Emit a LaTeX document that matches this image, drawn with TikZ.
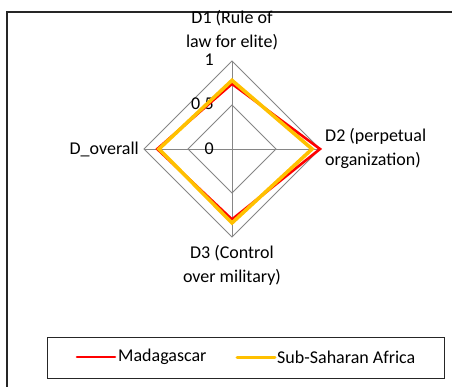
\documentclass[tikz,border=0pt]{standalone}
\usepackage{fontspec}
\setmainfont{Carlito}
\usetikzlibrary{calc}
\definecolor{gridgray}{HTML}{868686}
\definecolor{mgred}{HTML}{FF0000}
\definecolor{ssagold}{HTML}{FFC000}
\begin{document}
\begin{tikzpicture}[x=1pt,y=-1pt,
  font=\fontsize{18}{24}\selectfont,
  gridline/.style={draw=gridgray, line width=0.9pt},
  series/.style={line width=#1, line join=miter, miter limit=10},
  lbl/.style={inner sep=0pt, align=center},
  tick/.style={inner sep=0pt, anchor=east}]
  \useasboundingbox (0,0) rectangle (452,387);
  % chart area frame (right and bottom run past the page)
  \draw[line width=1.4pt, black!85] (460,12) -- (7,12) -- (7,395);

  % radar geometry: centre and radius
  \coordinate (c) at (232,149);
  \def\rad{88}
  \foreach \n/\dx/\dy in {a/0/-1, b/1/0, d/0/1, e/-1/0}{
    \coordinate (\n1) at ($(c)+(\dx*\rad,\dy*\rad)$);
    \coordinate (\n5) at ($(c)+(0.5*\dx*\rad,0.5*\dy*\rad)$);
  }
  % grid rings and spokes
  \draw[gridline] (a1) -- (b1) -- (d1) -- (e1) -- cycle;
  \draw[gridline] (a5) -- (b5) -- (d5) -- (e5) -- cycle;
  \draw[gridline] (c) -- (a1) (c) -- (b1) (c) -- (d1) (c) -- (e1);

  % axis tick labels
  \node[tick] (t0) at (214,149) {0};
  \node[tick] (t5) at (214,105) {0,5};
  \node[tick] (t1) at (214,60) {1};

  % Madagascar
  \draw[series=2.6pt, mgred]
    ($(c)+(0,-0.74*\rad)$) -- ($(c)+(1.0*\rad,0)$) --
    ($(c)+(0,0.80*\rad)$) -- ($(c)+(-0.85*\rad,0)$) -- cycle;
  % Sub-Saharan Africa
  \draw[series=3.6pt, ssagold]
    ($(c)+(0,-0.78*\rad)$) -- ($(c)+(0.91*\rad,0)$) --
    ($(c)+(0,0.84*\rad)$) -- ($(c)+(-0.83*\rad,0)$) -- cycle;

  % axis category labels
  \node[lbl] (d1lab) at (232,30) {D1 (Rule of\\law for elite)};
  \node[lbl, align=left, anchor=west] (d2lab) at (325,148) {D2 (perpetual\\organization)};
  \node[lbl] (d3lab) at (232,265) {D3 (Control\\over military)};
  \node[inner sep=0pt, anchor=east] (dolab) at (139,149) {D\_overall};

  % legend
  \draw[line width=0.9pt, black!85] (47,337) rectangle (444,378);
  \coordinate (l1a) at (77,357);
  \coordinate (l1b) at (115,357);
  \coordinate (l2a) at (237,357);
  \coordinate (l2b) at (275,357);
  \draw[line width=2.6pt, mgred, line cap=round] (l1a) -- (l1b);
  \draw[line width=3pt, ssagold, line cap=round] (l2a) -- (l2b);
  \node[inner sep=0pt, anchor=west] (leg1) at (118,357) {Madagascar};
  \node[inner sep=0pt, anchor=west] (leg2) at (277,357) {Sub-Saharan Africa};
\end{tikzpicture}
\end{document}
